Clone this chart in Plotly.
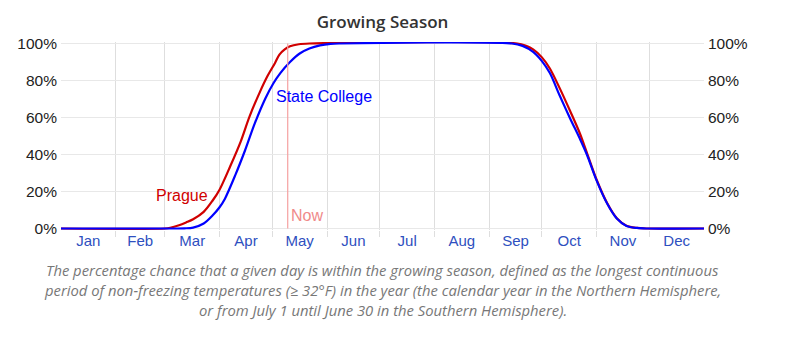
import plotly.graph_objects as go

# ---- data (day of year, 0 = Jan 1) ----
months = ["Jan", "Feb", "Mar", "Apr", "May", "Jun", "Jul", "Aug", "Sep", "Oct", "Nov", "Dec"]
month_starts = [0, 31, 59, 90, 120, 151, 181, 212, 243, 273, 304, 334]
year_len = 365

prague_days = [0, 59, 62, 67, 71, 75, 81, 86, 90, 96, 102, 107, 113, 117, 121.5, 124, 127, 130, 135, 141,
               259, 264, 268, 273, 277.5, 283, 289, 294.5, 298.5, 304, 310, 315.5, 321, 327, 333, 365]
prague_pct = [0, 0, 0.4, 1.8, 3.3, 5, 9, 15, 21, 33.5, 47, 60.5, 74, 82, 89.5, 94, 96.8, 98.5, 99.6, 100,
              100, 98.7, 96.8, 92.5, 86.5, 76, 63.5, 51.5, 41, 26.5, 13.8, 5.6, 1.5, 0.3, 0, 0]

sc_days = [0, 66, 70, 75, 81, 86, 90, 93, 99, 104.5, 110, 116, 120.5, 124.5, 130, 135.5, 141, 147, 153, 159,
           256, 262, 268, 273, 277.5, 283, 289, 294.5, 298.5, 304, 310, 315.5, 321, 327, 333, 365]
sc_pct = [0, 0, 0.1, 0.5, 2.7, 7, 11.5, 16, 29, 42.3, 56.8, 70.3, 78.4, 84, 90, 94.6, 97.3, 99, 99.8, 100,
          100, 98.7, 95.5, 90.5, 84, 72, 59.5, 48.6, 40, 26, 13.5, 5.4, 1.4, 0.3, 0, 0]

now_day = 128.7
y_ticks = [0, 20, 40, 60, 80, 100]

caption_lines = [
    "The percentage chance that a given day is within the growing season, defined as the longest continuous",
    "period of non-freezing temperatures (\u2265 32\u00b0F) in the year (the calendar year in the Northern Hemisphere,",
    "or from July 1 until June 30 in the Southern Hemisphere).",
]

RED = "#d00000"
BLUE = "#0000ff"
NOW = "#f5a0a0"
GRID = "#e8e8e8"
VGRID = "#dedede"
TICKFONT = "Arial, Liberation Sans, sans-serif"

W, H = 796, 338
M_L, M_R, M_T, M_B = 61, 92, 42, 108
plot_h = H - M_T - M_B

month_mids = [(month_starts[i] + (month_starts[i + 1] if i < 11 else year_len)) / 2 for i in range(12)]

fig = go.Figure()
fig.add_trace(go.Scatter(x=prague_days, y=prague_pct, mode="lines",
                         line=dict(color=RED, width=2.2, shape="spline", smoothing=0.9),
                         hoverinfo="skip", showlegend=False))
fig.add_trace(go.Scatter(x=sc_days, y=sc_pct, mode="lines",
                         line=dict(color=BLUE, width=2.2, shape="spline", smoothing=0.9),
                         hoverinfo="skip", showlegend=False))
fig.add_trace(go.Scatter(x=[now_day], y=[None], yaxis="y2", mode="lines", hoverinfo="skip", showlegend=False))

fig.add_shape(type="line", xref="x", yref="y", x0=now_day, x1=now_day, y0=0, y1=100,
              line=dict(color=NOW, width=1.2), layer="above")

fig.add_annotation(x=now_day, y=7.2, xref="x", yref="y", text="Now", showarrow=False, xanchor="left", xshift=1,
                   font=dict(family=TICKFONT, size=16, color="#f08a8a"))
fig.add_annotation(x=84.6, y=18, xref="x", yref="y", text="Prague", showarrow=False, xanchor="right",
                   font=dict(family=TICKFONT, size=16, color=RED))
fig.add_annotation(x=120.9, y=71.5, xref="x", yref="y", text="State College", showarrow=False, xanchor="left",
                   font=dict(family=TICKFONT, size=16, color=BLUE))

cap_y = [270, 290, 310]
for line, yy in zip(caption_lines, cap_y):
    fig.add_annotation(x=0.5, y=(H - M_B - yy) / plot_h, xref="paper", yref="paper",
                       yanchor="middle", xanchor="center", text=line, showarrow=False,
                       font=dict(family="Open Sans, sans-serif", size=14.8, color="#777", style="italic"))

yaxis_common = dict(range=[-0.8, 100.8], tickvals=y_ticks, ticktext=[f"{v}%" for v in y_ticks],
                    tickfont=dict(family=TICKFONT, size=15.5, color="#222"), zeroline=False,
                    fixedrange=True, ticklabelstandoff=3)

fig.update_layout(
    width=W, height=H,
    margin=dict(l=M_L, r=M_R, t=M_T, b=M_B),
    paper_bgcolor="white", plot_bgcolor="white",
    title=dict(text="Growing Season", x=0.5, xref="paper", y=1 - 22 / H, yref="container", yanchor="middle",
               font=dict(family="Open Sans, sans-serif", size=17, color="#333", weight=600)),
    xaxis=dict(range=[0, year_len], tickvals=month_mids, ticktext=months, showgrid=False, ticks="",
               tickfont=dict(family=TICKFONT, size=15, color="#2e4fc0"), zeroline=False,
               minor=dict(tickvals=month_starts[1:], showgrid=True, gridcolor=VGRID, gridwidth=1,
                          ticks="outside", ticklen=6, tickcolor=VGRID, tickwidth=1)),
    yaxis=dict(side="left", showgrid=True, gridcolor=GRID, gridwidth=1, **yaxis_common),
    yaxis2=dict(side="right", overlaying="y", showgrid=False, **yaxis_common),
)

fig.write_html("out.html")
